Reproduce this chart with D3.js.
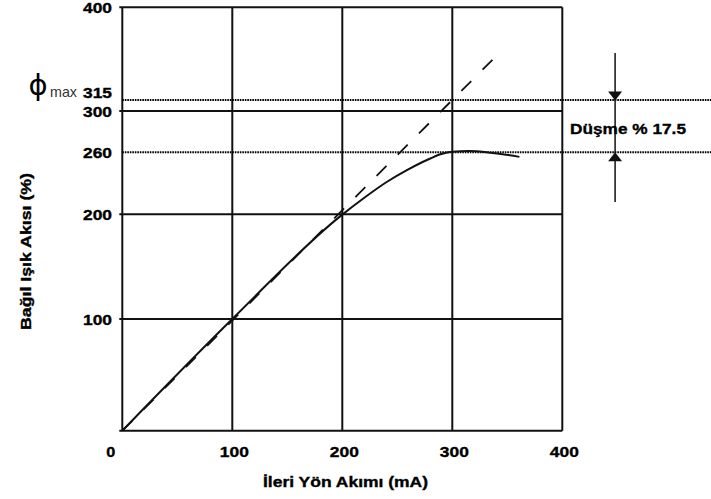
<!DOCTYPE html>
<html>
<head>
<meta charset="utf-8">
<script src="https://cdnjs.cloudflare.com/ajax/libs/d3/7.8.5/d3.min.js"></script>
<style>
    body { margin: 0; background: #fff; }
</style>
</head>
<body>
<div id="chart"></div>
<script>
// data
var xTicks = [0, 100, 200, 300, 400];
var yTicks = [100, 200, 300, 400];
var levels = [310.5, 260];          // dotted reference lines
var levelLabels = ['315', '260'];
var measured = [[0, 0], [100, 100], [198, 198], [220, 216], [240, 231], [260, 243.5],
    [280, 254], [290, 258.3], [300, 260.5], [315, 261.2], [335, 259.6], [361, 255.6]];
var ideal = [[0, 0], [338, 351]];
var dropX = 448;
var dropSpan = [356, 212];
var dropText = 'Düşme % 17.5';

var width = 711,
    height = 499;
var ink = '#111';

var svg = d3.select('#chart').append('svg')
    .attr('width', width)
    .attr('height', height)
    .style('font-family', 'Liberation Sans, Arial, sans-serif');

var x = d3.scaleLinear()
    .domain([0, 400])
    .range([122.3, 562.3]);

// the scanned grid is not quite even, so the scale follows the grid lines
var y = d3.scaleLinear()
    .domain([0, 100, 200, 300, 400])
    .range([430.7, 319, 214.3, 111, 7.3]);

// grid
svg.append('g').selectAll('line')
    .data(xTicks)
    .enter().append('line')
    .attr('x1', d => x(d)).attr('x2', d => x(d))
    .attr('y1', y(0)).attr('y2', y(400))
    .attr('stroke', ink)
    .attr('stroke-width', 2);

svg.append('g').selectAll('line')
    .data([0].concat(yTicks))
    .enter().append('line')
    .attr('x1', x(0) - 3).attr('x2', x(400))
    .attr('y1', d => y(d)).attr('y2', d => y(d))
    .attr('stroke', ink)
    .attr('stroke-width', 2);

// dotted levels
svg.append('g').selectAll('line')
    .data(levels)
    .enter().append('line')
    .attr('x1', x(0)).attr('x2', width)
    .attr('y1', d => y(d)).attr('y2', d => y(d))
    .attr('stroke', '#000')
    .attr('stroke-width', 2)
    .attr('stroke-dasharray', '1.6,0.9');

var line = d3.line()
    .x(d => x(d[0]))
    .y(d => y(d[1]));

// dashed ideal line
svg.append('path')
    .datum(ideal)
    .attr('d', line)
    .attr('fill', 'none')
    .attr('stroke', ink)
    .attr('stroke-width', 1.8)
    .attr('stroke-dasharray', '14,16');

// measured curve
svg.append('path')
    .datum(measured)
    .attr('d', line.curve(d3.curveMonotoneX))
    .attr('fill', 'none')
    .attr('stroke', ink)
    .attr('stroke-width', 2);

// tick labels
function boldText(g, w) {
    return g.attr('font-weight', 'bold')
        .attr('font-size', '15px')
        .attr('fill', '#000')
        .attr('stroke', '#000')
        .attr('stroke-width', 0.35)
        .attr('textLength', w)
        .attr('lengthAdjust', 'spacingAndGlyphs');
}

svg.append('g').selectAll('text')
    .data(xTicks)
    .enter().append('text')
    .attr('x', d => d === 0 ? x(d) - 7 : x(d) + 2)
    .attr('y', 457)
    .attr('text-anchor', d => d === 0 ? 'end' : 'middle')
    .text(d => d)
    .call(g => boldText(g, null))
    .attr('textLength', d => d === 0 ? 9 : 29);

svg.append('g').selectAll('text')
    .data(yTicks)
    .enter().append('text')
    .attr('x', 112)
    .attr('y', d => y(d) + 5.5)
    .attr('text-anchor', 'end')
    .text(d => d)
    .call(g => boldText(g, 29));

svg.append('g').selectAll('text')
    .data(levels)
    .enter().append('text')
    .attr('x', 112)
    .attr('y', (d, i) => y(d) + 5.5 - (i === 0 ? 8 : 0))
    .attr('text-anchor', 'end')
    .text((d, i) => levelLabels[i])
    .call(g => boldText(g, 29));

// phi max
svg.append('text')
    .attr('x', 38)
    .attr('y', 95)
    .attr('text-anchor', 'middle')
    .attr('font-family', 'DejaVu Sans')
    .attr('font-size', '29px')
    .attr('fill', '#000')
    .text('ϕ');
svg.append('text')
    .attr('x', 50)
    .attr('y', y(levels[0]) - 3)
    .attr('font-size', '14.5px')
    .attr('fill', '#333')
    .attr('textLength', 27)
    .attr('lengthAdjust', 'spacingAndGlyphs')
    .text('max');

// axis titles
svg.append('text')
    .attr('x', 345.5)
    .attr('y', 487)
    .attr('text-anchor', 'middle')
    .text('İleri Yön Akımı (mA)')
    .call(g => boldText(g, 165))
    .attr('font-size', '14px');

svg.append('text')
    .attr('transform', 'translate(31, 251.5) rotate(-90)')
    .attr('text-anchor', 'middle')
    .text('Bağıl Işık Akısı (%)')
    .call(g => boldText(g, 157))
    .attr('font-size', '14px');

// drop annotation
var ax = x(dropX);
svg.append('line')
    .attr('x1', ax).attr('x2', ax)
    .attr('y1', y(dropSpan[0])).attr('y2', y(dropSpan[1]))
    .attr('stroke', ink)
    .attr('stroke-width', 1.5);

svg.append('path')
    .attr('d', `M${ax - 7},${y(levels[0]) - 8.5}L${ax + 7},${y(levels[0]) - 8.5}L${ax},${y(levels[0]) + 0.5}Z`)
    .attr('fill', ink);
svg.append('path')
    .attr('d', `M${ax - 7},${y(levels[1]) + 9}L${ax + 7},${y(levels[1]) + 9}L${ax},${y(levels[1])}Z`)
    .attr('fill', ink);

svg.append('text')
    .attr('x', 570)
    .attr('y', (y(levels[0]) + y(levels[1])) / 2 + 7.5)
    .text(dropText)
    .call(g => boldText(g, 116));
</script>
</body>
</html>
